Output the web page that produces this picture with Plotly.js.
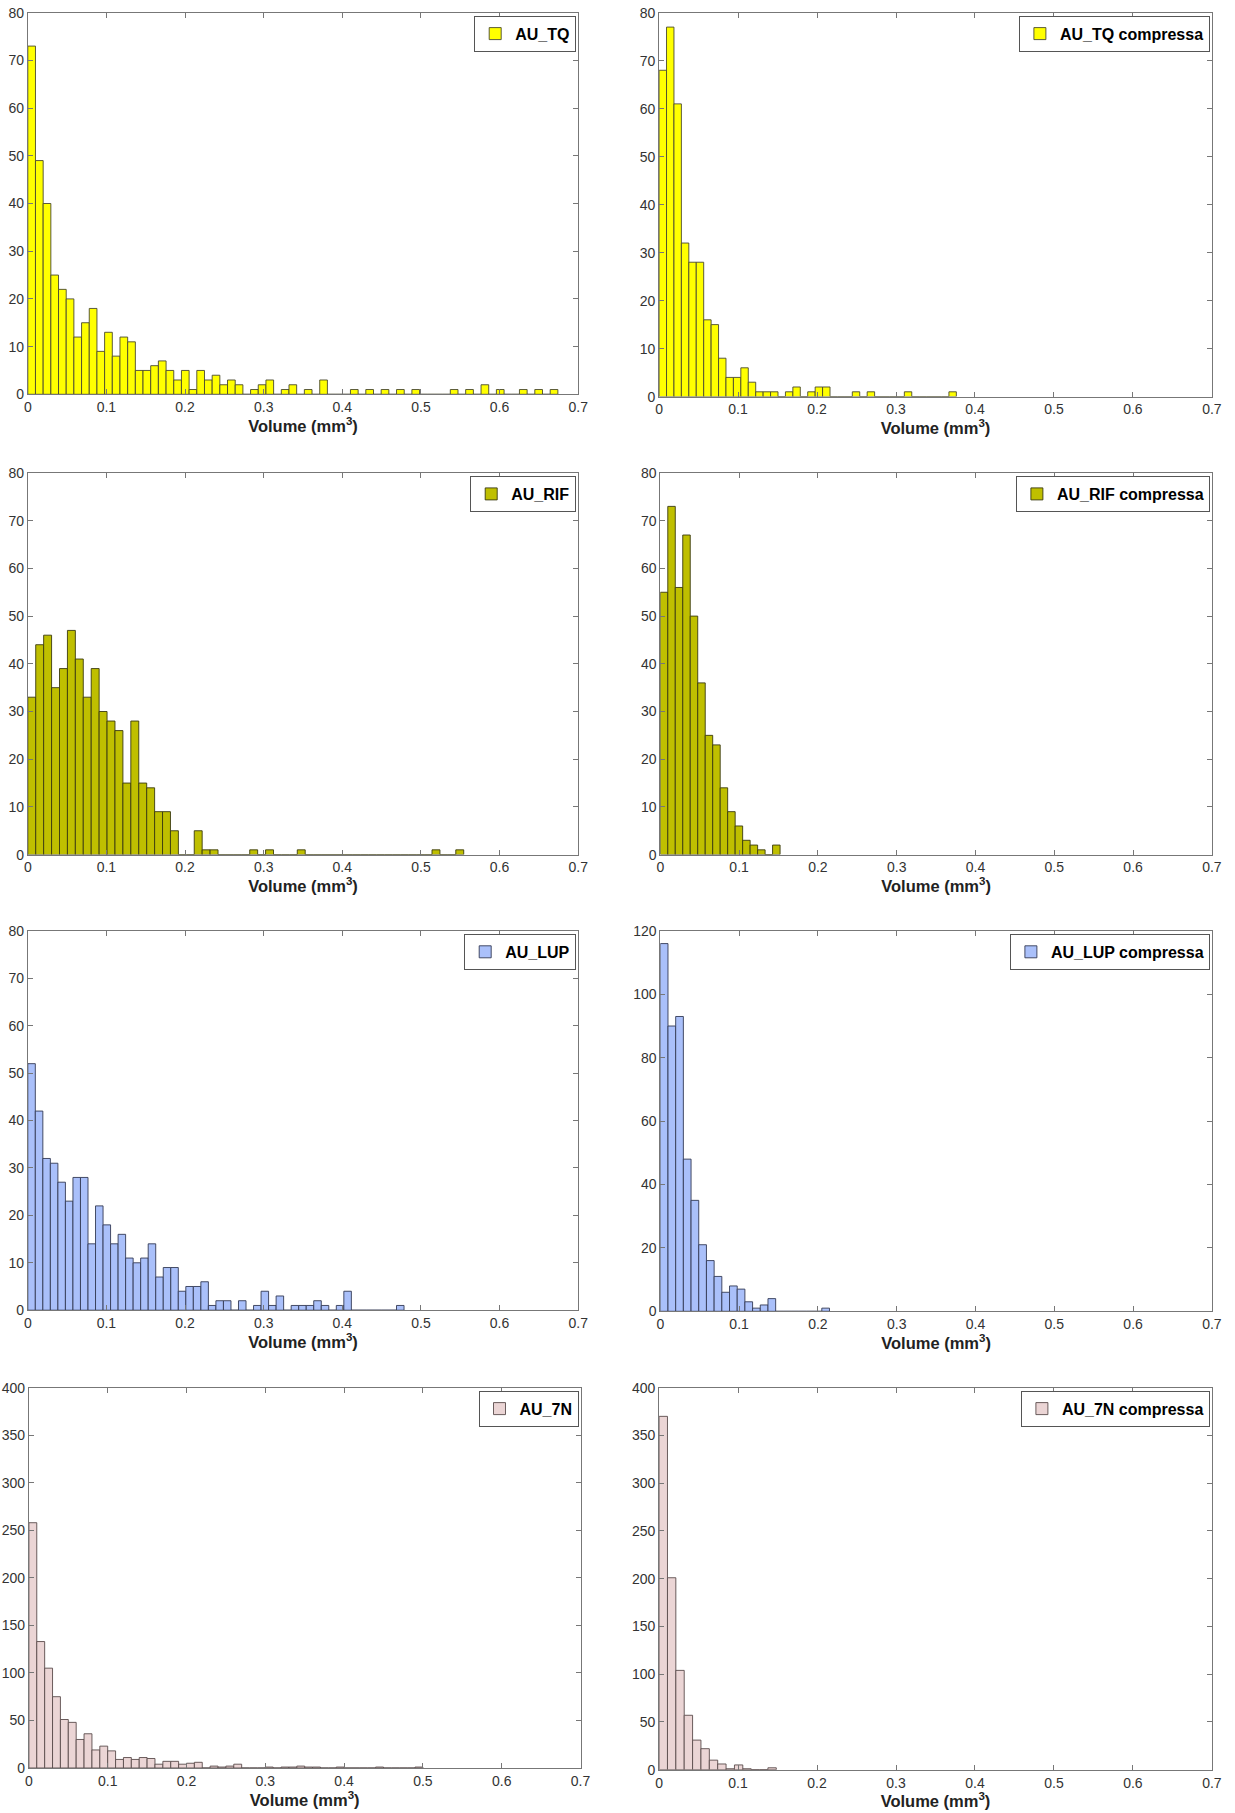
<!DOCTYPE html>
<html>
<head>
<meta charset="utf-8">
<script src="https://cdn.plot.ly/plotly-3.0.1.min.js"></script>
<style>
  html, body { margin: 0; padding: 0; background: #ffffff; overflow: hidden; }
  #chart { width: 1235px; height: 1813px; }
</style>
</head>
<body>
<div id="chart"></div>
<script>
// ---------------- DATA (histogram bin counts) ----------------
const seriesNames = ["AU_TQ", "AU_TQ compressa", "AU_RIF", "AU_RIF compressa",
                     "AU_LUP", "AU_LUP compressa", "AU_7N", "AU_7N compressa"];

// bin width (mm^3) of each histogram, bins start at 0
const binWidths = [0.00977, 0.00941, 0.01008, 0.0095, 0.00957, 0.00976, 0.01, 0.0106];

const countsTQ = [73,49,40,25,22,20,12,15,18,9, 13,8,12,11,5,5,6,7,5,3, 5,1,5,3,4,2,3,2,0,1,
                  2,3,0,1,2,0,1,0,3,0, 0,0,1,0,1,0,1,0,1,0, 1,0,0,0,0,1,0,1,0,2, 0,1,0,0,1,0,1,0,1];
const countsTQc = [68,77,61,32,28,28,16,15,8,4, 4,6,3,1,1,1,0,1,2,0, 1,2,2,0,0,0,1,0,1,0,
                   0,0,0,1,0,0,0,0,0,1];
const countsRIF = [33,44,46,35,39,47,41,33,39,30, 28,26,15,28,15,14,9,9,5,0, 0,5,1,1,0,0,0,0,1,0,
                   1,0,0,0,1,0,0,0,0,0, 0,0,0,0,0,0,0,0,0,0, 0,1,0,0,1];
const countsRIFc = [55,73,56,67,50,36,25,23,14,9,6,3,2,1,0,2];
const countsLUP = [52,42,32,31,27,23,28,28,14,22, 18,14,16,11,10,11,14,7,9,9, 4,5,5,6,1,2,2,0,2,0,
                   1,4,1,3,0,1,1,1,2,1, 0,1,4,0,0,0,0,0,0,1];
const countsLUPc = [116,90,93,48,35,21,16,11,6,8,7,3,1,2,4,0,0,0,0,0,0,1];
const counts7N = [258,133,105,75,51,48,30,36,19,23, 18,9,11,9,11,10,4,7,7,4, 5,6,0,2,1,2,4,0,0,0,
                  1,0,1,1,2,1,1,0,0,1, 0,0,0,0,1,0,0,0,0,1];
const counts7Nc = [370,201,104,57,31,22,10,6,1,5,1,0,0,2];

const allCounts = [countsTQ, countsTQc, countsRIF, countsRIFc, countsLUP, countsLUPc, counts7N, counts7Nc];

// y axis extents and tick steps
const yMax = [80, 80, 80, 80, 80, 120, 400, 400];
const yStep = [10, 10, 10, 10, 10, 20, 50, 50];
const xTickVals = [0, 0.1, 0.2, 0.3, 0.4, 0.5, 0.6, 0.7];
const xTitle = "Volume (mm<sup>3</sup>)";

// ---------------- STYLE / LAYOUT ----------------
const fills = ["#ffff00", "#ffff00", "#bfbf00", "#bfbf00",
               "#aac0fa", "#aac0fa", "#ebd5d5", "#ebd5d5"];
const edges = ["#4a4a30", "#4a4a30", "#3a3a10", "#3a3a10",
               "#333a55", "#333a55", "#5a4c4c", "#5a4c4c"];

const W = 1235, H = 1813;
// plot-area boxes in pixels: [left, right, top, bottom]
const boxes = [
  [27.8, 578.2, 12.7, 394.3], [659.1, 1211.9, 12.7, 396.6],
  [27.8, 578.2, 473, 854.6], [660.3, 1211.9, 473, 854.6],
  [27.8, 578.2, 930.9, 1310.2], [660.3, 1211.9, 930.9, 1311.3],
  [28.9, 580.5, 1387.7, 1768], [659.1, 1211.9, 1387.7, 1769.7]
];

const FONT = "Arial, 'Liberation Sans', Helvetica, sans-serif";
const traces = [];
const layout = {
  width: W, height: H,
  margin: {l: 0, r: 0, t: 0, b: 0},
  paper_bgcolor: "#ffffff", plot_bgcolor: "#ffffff",
  font: {family: FONT, color: "#333"},
  bargap: 0,
  showlegend: true
};

for (let i = 0; i < 8; i++) {
  const counts = allCounts[i];
  const w = binWidths[i];
  const xs = counts.map((_, k) => (k + 0.5) * w);
  const sfx = i === 0 ? "" : String(i + 1);
  const legKey = "legend" + sfx;
  traces.push({
    type: "bar",
    x: xs, y: counts, width: w,
    name: seriesNames[i],
    xaxis: "x" + sfx, yaxis: "y" + sfx,
    legend: legKey,
    showlegend: true,
    marker: {color: fills[i], line: {color: edges[i], width: 0.9}},
    hoverinfo: "skip"
  });
  const b = boxes[i];
  layout["xaxis" + sfx] = {
    domain: [b[0] / W, b[1] / W],
    anchor: "y" + sfx,
    range: [0, 0.7],
    tickvals: xTickVals,
    ticktext: xTickVals.map(v => String(v)),
    ticks: "inside", ticklen: 5, tickwidth: 1, tickcolor: "#777",
    showline: true, linecolor: "#777", linewidth: 1, mirror: "ticks",
    showgrid: false, zeroline: false, automargin: false,
    tickfont: {family: FONT, size: 14, color: "#333"},
    title: {text: xTitle, standoff: 3,
            font: {family: FONT, size: 16.5, color: "#222", weight: "bold"}}
  };
  const yt = [];
  for (let v = 0; v <= yMax[i]; v += yStep[i]) yt.push(v);
  layout["yaxis" + sfx] = {
    domain: [1 - b[3] / H, 1 - b[2] / H],
    anchor: "x" + sfx,
    range: [0, yMax[i]],
    tickvals: yt,
    ticks: "inside", ticklen: 5, tickwidth: 1, tickcolor: "#777",
    showline: true, linecolor: "#777", linewidth: 1, mirror: "ticks",
    showgrid: false, zeroline: false, automargin: false,
    tickfont: {family: FONT, size: 14, color: "#333"}
  };
  layout[legKey] = {
    x: (b[1] - 2) / W, y: 1 - (b[2] + 3) / H,
    xanchor: "right", yanchor: "top",
    xref: "paper", yref: "paper",
    bgcolor: "#ffffff", bordercolor: "#555", borderwidth: 1,
    itemwidth: 30, tracegroupgap: 0,
    font: {family: FONT, size: 16, color: "#000", weight: "bold"}
  };
}

Plotly.newPlot("chart", traces, layout, {staticPlot: true, displayModeBar: false});
</script>
</body>
</html>
